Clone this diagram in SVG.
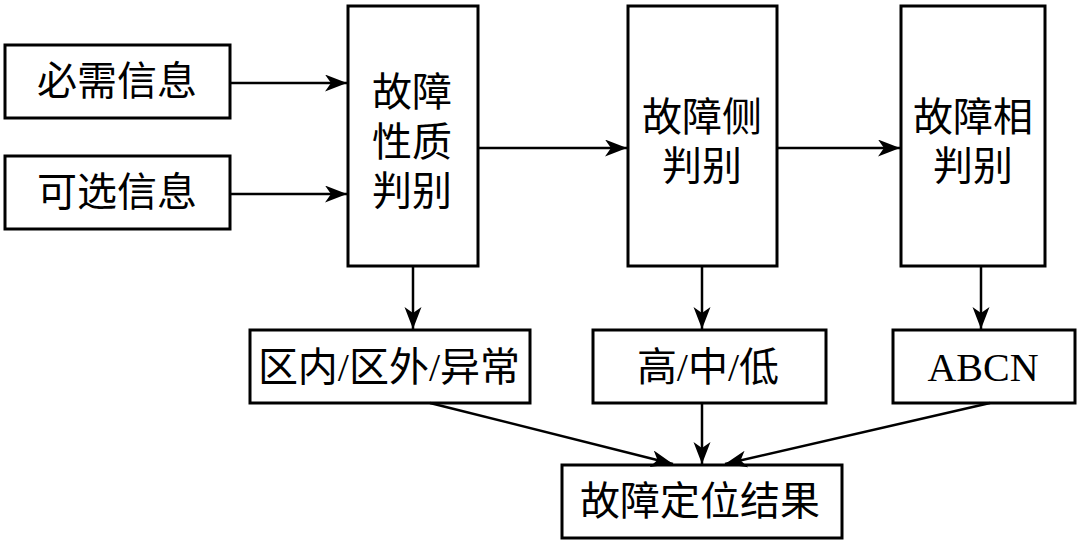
<svg xmlns="http://www.w3.org/2000/svg" width="1080" height="543" viewBox="0 0 1080 543">
<style>
.box{fill:#fff;stroke:#000;stroke-width:3}
.t{font-family:"Liberation Serif","Noto Sans CJK SC",serif;font-size:40px;fill:#000;text-anchor:middle;dominant-baseline:central}
.c{stroke:#000;stroke-width:2.5;fill:none;marker-end:url(#ah)}
</style>
<defs>
<marker id="ah" markerUnits="userSpaceOnUse" markerWidth="24" markerHeight="18" refX="22" refY="8.5" orient="auto">
<path d="M0,0 L22,8.5 L0,17 L6,8.5 z" fill="#000"/>
</marker>
</defs>
<rect width="1080" height="543" fill="#fff"/>
<g id="n_required"><rect class="box" x="5" y="45" width="225" height="73"/><text class="t" x="117" y="81">必需信息</text></g>
<g id="n_optional"><rect class="box" x="5" y="156" width="225" height="73"/><text class="t" x="117" y="192">可选信息</text></g>
<g id="n_nature"><rect class="box" x="348" y="6" width="130" height="260"/><text class="t" x="412" y="92">故障</text><text class="t" x="412" y="142">性质</text><text class="t" x="412" y="191">判别</text></g>
<g id="n_side"><rect class="box" x="628" y="6" width="149" height="260"/><text class="t" x="702" y="117">故障侧</text><text class="t" x="702" y="166">判别</text></g>
<g id="n_phase"><rect class="box" x="901" y="6" width="144" height="260"/><text class="t" x="973" y="117">故障相</text><text class="t" x="973" y="166">判别</text></g>
<g id="n_zone"><rect class="box" x="250" y="330" width="280" height="73"/><text class="t" x="389" y="367">区内/区外/异常</text></g>
<g id="n_level"><rect class="box" x="593" y="330" width="233" height="73"/><text class="t" x="708" y="367">高/中/低</text></g>
<g id="n_abcn"><rect class="box" x="893" y="330" width="182" height="73"/><text class="t" x="983" y="367">ABCN</text></g>
<g id="n_result"><rect class="box" x="562" y="465" width="280" height="73"/><text class="t" x="700" y="501">故障定位结果</text></g>
<g id="connectors">
<line class="c" x1="230" y1="83" x2="347" y2="83"/>
<line class="c" x1="230" y1="194" x2="347" y2="194"/>
<line class="c" x1="478" y1="148" x2="627" y2="148"/>
<line class="c" x1="777" y1="148" x2="900" y2="148"/>
<line class="c" x1="413" y1="266" x2="413" y2="329"/>
<line class="c" x1="702" y1="266" x2="702" y2="329"/>
<line class="c" x1="981" y1="266" x2="981" y2="329"/>
<line class="c" x1="430" y1="403" x2="673" y2="464"/>
<line class="c" x1="702" y1="403" x2="702" y2="464"/>
<line class="c" x1="990" y1="403" x2="725" y2="464"/>
</g>
</svg>
